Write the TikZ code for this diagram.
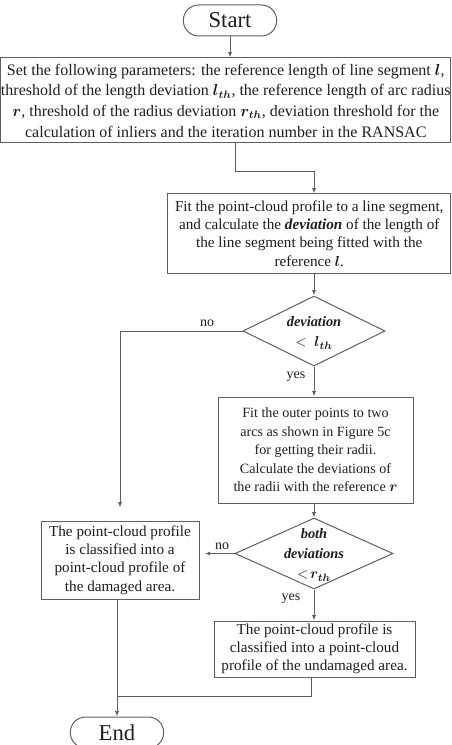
\documentclass[tikz,border=0pt]{standalone}
\usepackage{amsmath}
\usepackage{fontspec}
\setmainfont{Liberation Serif}
\usepackage{tikz}
\usetikzlibrary{shapes.geometric, arrows.meta}

\definecolor{linegray}{RGB}{95,95,95}
\definecolor{inkgray}{RGB}{30,30,30}

\tikzset{
  box/.style={draw=linegray, line width=0.75pt, align=center, inner sep=0pt, text=inkgray, font=\fontsize{11.4}{13.7}\selectfont},
  terminal/.style={draw=linegray, line width=0.75pt, rounded corners=11.5pt, minimum width=70pt, minimum height=23.25pt, inner sep=0pt, text=inkgray, font=\fontsize{17}{20}\selectfont},
  decision/.style={draw=linegray, line width=0.75pt, diamond, aspect=2, inner sep=0pt},
  dtext/.style={align=center, inner sep=0pt, text=inkgray, font=\fontsize{10.8}{15}\selectfont\bfseries\itshape},
  flow/.style={draw=linegray, line width=0.75pt, -{Latex[length=4pt,width=3pt]}},
  tag/.style={inner sep=0pt, text=inkgray, font=\fontsize{10.5}{12}\selectfont},
}

\begin{document}
\begin{tikzpicture}[x=0.75pt,y=0.75pt,yscale=-1,xscale=1]
\useasboundingbox (0,0) rectangle (451,745);

% Start / End
\node[terminal] (start) at (230,20.5) {Start};
\node[terminal] (end) at (117,732.5) {End};

% Process boxes
\node[box, minimum width=337pt, minimum height=63.75pt, font=\fontsize{12}{15.5}\selectfont] (set) at (225.75,100.5) {Set the following parameters: the reference length of line segment $\boldsymbol{l}$,\\
threshold of the length deviation $\boldsymbol{l_{th}}$, the reference length of arc radius\\
$\boldsymbol{r}$, threshold of the radius deviation $\boldsymbol{r_{th}}$, deviation threshold for the\\
calculation of inliers and the iteration number in the RANSAC};

\node[box, minimum width=211.9pt, minimum height=59.25pt] (fit) at (309.25,233.5) {Fit the point-cloud profile to a line segment,\\
and calculate the \textbf{\textit{deviation}} of the length of\\
the line segment being fitted with the\\
reference $\boldsymbol{l}$.};

\node[box, minimum width=146.25pt, minimum height=79.5pt, font=\fontsize{10.6}{13.9}\selectfont] (radii) at (315.5,450) {Fit the outer points to two\\
arcs as shown in Figure 5c\\
for getting their radii.\\
Calculate the deviations of\\
the radii with the reference $\boldsymbol{r}$};

\node[box, minimum width=118.5pt, minimum height=58.5pt] (damaged) at (120,560) {The point-cloud profile\\
is classified into a\\
point-cloud profile of\\
the damaged area.};

\node[box, minimum width=150.75pt, minimum height=42pt] (undamaged) at (314.5,649) {The point-cloud profile is\\
classified into a point-cloud\\
profile of the undamaged area.};

% Decisions
\node[decision, minimum width=106.5pt, minimum height=52.5pt] (dev) at (314,331) {};
\node[dtext] (devtext) at (314,333) {deviation\\$<\ \boldsymbol{l_{th}}$};

\node[decision, minimum width=118.5pt, minimum height=53.25pt] (both) at (314,553.5) {};
\node[dtext] (bothtext) at (314,555) {both\\deviations\\$<\!\boldsymbol{r_{th}}$};

% Connectors
\coordinate (bend) at (235,172);
\coordinate (join) at (117,696);

\draw[flow] (start.south) -- (start.south |- set.north);
\draw[flow] (bend |- set.south) -- (bend) -| (fit.north -| dev);
\draw[flow] (fit.south -| dev) -- (dev.north);
\draw[flow] (dev.south) -- (dev.south |- radii.north);
\draw[flow, shorten >=13*0.75pt] (dev.west) -| (damaged.north);
\draw[flow] (radii.south -| both) -- (both.north);
\draw[flow, shorten >=4pt] (both.west) -- (both.west -| damaged.east);
\draw[flow] (both.south) -- (both.south |- undamaged.north);
\draw[linegray, line width=0.75pt] (undamaged.south -| 311,0) |- (join);
\draw[flow] (damaged.south -| end) -- (end.north);

% Branch labels
\node[tag] (no1) at (207,323) {no};
\node[tag] (yes1) at (296,377) {yes};
\node[tag] (no2) at (222,546) {no};
\node[tag] (yes2) at (291,599) {yes};

\end{tikzpicture}
\end{document}
